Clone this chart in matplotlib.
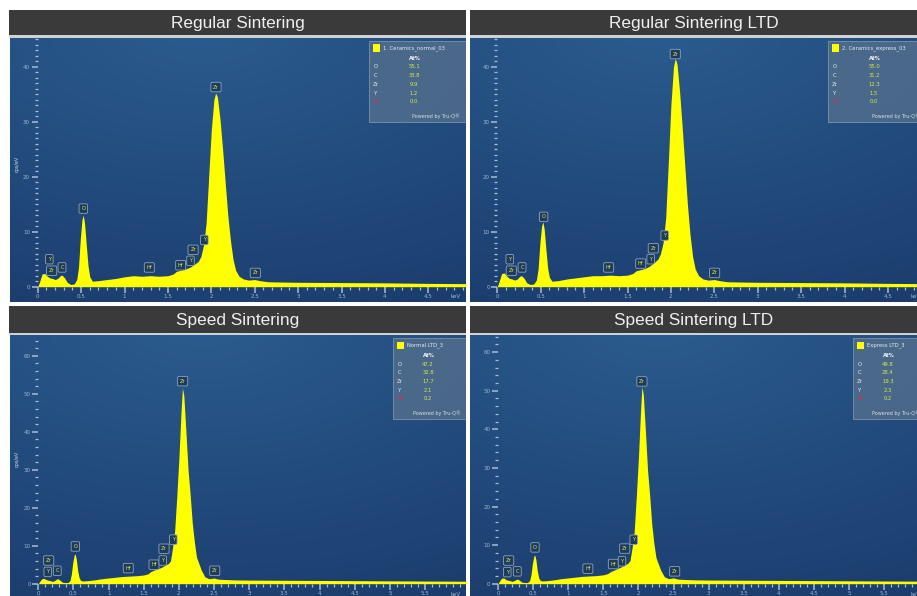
import numpy as np
import matplotlib
matplotlib.use('Agg')
import matplotlib.pyplot as plt
from matplotlib.patches import Rectangle
from matplotlib.ticker import FixedLocator, FuncFormatter

W, H = 917, 596

# EDS spectra, cps/eV against keV
energy_kev = [0.00, 0.02, 0.05, 0.08, 0.11, 0.14, 0.17, 0.20, 0.23, 0.26,
              0.28, 0.31, 0.34, 0.38, 0.42, 0.45, 0.47, 0.49, 0.51, 0.525,
              0.54, 0.56, 0.58, 0.60, 0.63, 0.70, 0.80, 0.90, 1.00, 1.10,
              1.20, 1.30, 1.40, 1.50, 1.56, 1.60, 1.65, 1.70, 1.75, 1.80,
              1.85, 1.88, 1.91, 1.94, 1.97, 2.00, 2.03, 2.05, 2.07, 2.10,
              2.13, 2.16, 2.19, 2.22, 2.25, 2.28, 2.32, 2.37, 2.43, 2.50,
              2.56, 2.65, 2.80, 3.00, 3.50, 4.00, 4.50, 5.00, 5.50, 6.10]

counts_regular = [0.0, 0.8, 2.3, 2.4, 1.9, 1.6, 1.5, 1.3, 1.5, 2.0,
                  2.1, 1.6, 0.8, 0.4, 0.5, 1.3, 3.5, 8.5, 12.2, 13.0,
                  11.5, 7.5, 3.8, 1.8, 1.0, 1.1, 1.3, 1.5, 1.8, 2.0,
                  1.9, 2.0, 1.9, 2.0, 2.3, 2.8, 3.0, 3.2, 3.5, 4.0,
                  4.6, 5.5, 7.5, 11.5, 20.0, 28.5, 34.0, 35.2, 34.5, 30.5,
                  25.0, 19.0, 13.0, 8.5, 5.0, 3.0, 1.9, 1.4, 1.2, 1.3,
                  1.1, 0.9, 0.85, 0.8, 0.75, 0.7, 0.6, 0.55, 0.5, 0.45]

counts_regular_ltd = [0.0, 0.9, 2.4, 2.5, 1.9, 1.5, 1.4, 1.2, 1.4, 1.9,
                      2.0, 1.5, 0.7, 0.4, 0.5, 1.2, 3.2, 7.8, 11.0, 11.8,
                      10.5, 6.8, 3.4, 1.7, 1.0, 1.1, 1.4, 1.6, 1.8, 2.0,
                      2.0, 2.1, 2.0, 2.1, 2.4, 2.9, 3.1, 3.3, 3.7, 4.3,
                      5.0, 6.0, 8.0, 12.5, 22.5, 33.0, 40.0, 41.5, 40.5, 35.5,
                      29.0, 22.0, 15.0, 9.5, 5.5, 3.2, 2.0, 1.4, 1.2, 1.3,
                      1.1, 0.9, 0.85, 0.8, 0.75, 0.7, 0.6, 0.55, 0.5, 0.45]

counts_speed = [0.0, 0.6, 1.3, 1.4, 1.1, 0.9, 0.8, 0.6, 0.8, 1.2,
                1.3, 0.9, 0.4, 0.3, 0.3, 0.8, 2.5, 5.5, 7.5, 7.8,
                6.5, 3.5, 1.6, 0.9, 0.7, 0.8, 1.0, 1.3, 1.5, 1.7,
                1.9, 2.0, 2.1, 2.3, 2.6, 3.2, 3.6, 3.9, 4.3, 4.8,
                5.3, 6.0, 9.5, 14.0, 23.0, 33.0, 45.0, 51.5, 49.5, 40.0,
                30.0, 23.5, 16.0, 11.0, 7.0, 5.5, 3.5, 1.8, 1.3, 1.5,
                1.2, 1.1, 1.0, 0.95, 0.9, 0.85, 0.8, 0.75, 0.7, 0.65]

counts_speed_ltd = [0.0, 0.6, 1.4, 1.5, 1.1, 0.9, 0.8, 0.6, 0.8, 1.1,
                    1.2, 0.8, 0.4, 0.3, 0.3, 0.8, 2.3, 5.2, 7.1, 7.4,
                    6.2, 3.3, 1.5, 0.9, 0.7, 0.8, 1.0, 1.3, 1.5, 1.7,
                    1.9, 2.0, 2.1, 2.3, 2.6, 3.1, 3.5, 3.9, 4.3, 4.8,
                    5.3, 6.0, 9.3, 13.5, 22.5, 32.5, 44.5, 51.0, 49.0, 39.5,
                    29.5, 23.0, 15.5, 10.5, 6.8, 5.3, 3.4, 1.8, 1.3, 1.5,
                    1.2, 1.1, 1.0, 0.95, 0.9, 0.85, 0.8, 0.75, 0.7, 0.65]

titles = ['Regular Sintering', 'Regular Sintering LTD',
          'Speed Sintering', 'Speed Sintering LTD']
sample_names = ['1. Ceramics_normal_03', '2. Ceramics_express_03',
                'Normal LTD_3', 'Express LTD_3']

# quantification, At%
elements = ['O', 'C', 'Zr', 'Y', 'Hf']
at_regular = [55.1, 33.8, 9.9, 1.2, 0.0]
at_regular_ltd = [55.0, 31.2, 12.3, 1.5, 0.0]
at_speed = [47.2, 32.8, 17.7, 2.1, 0.2]
at_speed_ltd = [49.8, 28.4, 19.3, 2.3, 0.2]

# peak markers: line name, energy (keV), marker height (cps/eV)
peak_names = ['Y', 'Zr', 'C', 'O', 'Hf', 'Hf', 'Y', 'Zr', 'Y', 'Zr', 'Zr']
peak_kev_regular = [0.134, 0.161, 0.28, 0.525, 1.286, 1.647, 1.76, 1.79, 1.92, 2.054, 2.507]
peak_y_regular = [5.0, 2.9, 3.5, 14.2, 3.5, 3.9, 4.7, 6.7, 8.5, 36.3, 2.5]
peak_kev_regular_ltd = [0.143, 0.161, 0.285, 0.534, 1.283, 1.652, 1.767, 1.797, 1.928, 2.05, 2.504]
peak_y_regular_ltd = [5.0, 2.9, 3.5, 12.7, 3.5, 4.2, 5.0, 7.0, 9.3, 42.3, 2.5]
peak_kev_speed = [0.134, 0.148, 0.27, 0.527, 1.28, 1.646, 1.77, 1.788, 1.92, 2.054, 2.51]
peak_y_speed = [3.1, 6.1, 3.4, 9.8, 4.1, 5.0, 6.1, 9.2, 11.6, 53.3, 3.4]
peak_kev_speed_ltd = [0.132, 0.152, 0.275, 0.527, 1.28, 1.643, 1.766, 1.805, 1.933, 2.05, 2.517]
peak_y_speed_ltd = [3.0, 6.0, 3.2, 9.4, 3.9, 5.1, 5.8, 9.1, 11.4, 52.4, 3.2]

spectra = [counts_regular, counts_regular_ltd, counts_speed, counts_speed_ltd]
quant = [at_regular, at_regular_ltd, at_speed, at_speed_ltd]
peak_kev = [peak_kev_regular, peak_kev_regular_ltd, peak_kev_speed, peak_kev_speed_ltd]
peak_y = [peak_y_regular, peak_y_regular_ltd, peak_y_speed, peak_y_speed_ltd]

# panel layout in pixels
plot_box = [(10, 38, 466, 302), (470, 38, 917, 302),
            (10, 335, 466, 596), (470, 335, 917, 596)]
title_box = [(9, 10, 466, 35), (470, 10, 917, 35),
             (9, 306, 466, 333), (470, 306, 917, 333)]
zero_px = [(37.7, 286.7), (497.3, 286.7), (38.3, 583.7), (498.0, 583.7)]
scale_px = [(86.8, 5.5), (86.8, 5.5), (70.3, 3.8), (70.2, 3.86)]
y_top_tick = [40, 40, 60, 60]
y_minor_step = [1, 1, 2, 2]
x_last_major = [4.5, 4.5, 5.5, 5.5]
legend_left = [369, 828, 393, 853]
value_dx = [45, 46, 35, 35]
powered_dx = [43, 44, 20, 19]

YELLOW = '#ffff00'
TICK = '#a9bdd5'


def fig_rect(box):
    x1, y1, x2, y2 = box
    return [x1 / W, 1 - y2 / H, (x2 - x1) / W, (y2 - y1) / H]


def backdrop(ax):
    u = np.linspace(0, 1, 240)
    v = np.linspace(0, 1, 240)
    uu, vv = np.meshgrid(u, v)
    d = np.clip(np.hypot((uu - 0.42) * 0.9, vv - 1.05) / 1.25, 0, 1)
    c0 = np.array([0.17, 0.36, 0.56])
    c1 = np.array([0.10, 0.23, 0.42])
    img = c0 + (c1 - c0) * d[..., None]
    ax.imshow(img, extent=(0, 1, 0, 1), origin='lower', transform=ax.transAxes,
              aspect='auto', zorder=0, interpolation='bilinear')


fig = plt.figure(figsize=(W / 100, H / 100), dpi=100)
fig.patch.set_facecolor('white')

for i in range(4):
    # title bar
    tx1, ty1, tx2, ty2 = title_box[i]
    fig.patches.append(Rectangle((tx1 / W, 1 - ty2 / H), (tx2 - tx1) / W, (ty2 - ty1) / H,
                                 transform=fig.transFigure, fc='#3a3a3a', ec='none'))
    fig.patches.append(Rectangle((tx1 / W, 1 - (ty2 + 2.5) / H), (tx2 - tx1) / W, 2.5 / H,
                                 transform=fig.transFigure, fc='#cfd2d4', ec='none'))
    fig.text((tx1 + tx2) / 2 / W, 1 - ((ty1 + ty2) / 2 + 1) / H, titles[i],
             ha='center', va='center', fontsize=12.4, color='#efefef',
             family='Liberation Sans')

    left, top, right, bottom = plot_box[i]
    x0, y0 = zero_px[i]
    sx, sy = scale_px[i]
    ax = fig.add_axes(fig_rect(plot_box[i]))
    backdrop(ax)

    ax.fill_between(energy_kev, 0, spectra[i], color=YELLOW, lw=0, zorder=2)

    ax.set_xlim((left - x0) / sx, (right - x0) / sx)
    ax.set_ylim((y0 - bottom) / sy, (y0 - top) / sy)

    for sp in ax.spines.values():
        sp.set_color('none')
    ax.spines['left'].set_position(('data', 0))
    ax.spines['bottom'].set_position(('data', 0))

    xmaj = np.arange(0, x_last_major[i] + 0.01, 0.5)
    xmin = np.arange(0, ax.get_xlim()[1], 0.1)
    ymaj = np.arange(0, y_top_tick[i] + 1, 10)
    ymin = np.arange(0, ax.get_ylim()[1], y_minor_step[i])
    ax.xaxis.set_major_locator(FixedLocator(xmaj))
    ax.xaxis.set_minor_locator(FixedLocator(xmin))
    ax.yaxis.set_major_locator(FixedLocator(ymaj))
    ax.yaxis.set_minor_locator(FixedLocator(ymin))
    ax.xaxis.set_major_formatter(FuncFormatter(lambda v, p: '%g' % v))
    ax.yaxis.set_major_formatter(FuncFormatter(lambda v, p: '%g' % v))
    ax.tick_params(which='major', direction='out', length=4, width=1.1,
                   color=TICK, labelcolor='#9fb5ce', labelsize=4, pad=1.5)
    ax.tick_params(which='minor', direction='out', length=2, width=0.9, color=TICK)

    # unit label sits at the right end of the energy axis
    ax.text((left + 446 - x0) / sx, -10.3 / sy, 'keV', ha='center', va='center',
            fontsize=4, color='#9fb5ce', clip_on=True)
    ax.text((17 - left) / (right - left), 0.525, 'cps/eV', rotation=90,
            transform=ax.transAxes, ha='center', va='center', fontsize=3.5,
            color='#8ea6c2')

    # peak markers
    for name, kx, ky in zip(peak_names, peak_kev[i], peak_y[i]):
        ax.text(kx, ky, name, ha='center', va='center', fontsize=3.6,
                color='#e4ee3c', zorder=4,
                bbox=dict(boxstyle='round,pad=0.45,rounding_size=0.25',
                          fc='#1d3b5e', ec='#8ea4bc', lw=0.6))

    # quantification box
    aw, ah = right - left, bottom - top
    bl, bt = legend_left[i], top + 3

    def fx(dx):
        return (bl + dx - left) / aw

    def fy(dy):
        return 1 - (bt + dy - top) / ah

    ax.add_patch(Rectangle((fx(0), fy(81)), 0.4, 81 / ah, transform=ax.transAxes,
                           fc='#4d6b8b', ec='#7f97b0', lw=0.6, alpha=0.92, zorder=5))
    ax.add_patch(Rectangle((fx(4), fy(11)), 7 / aw, 7.5 / ah, transform=ax.transAxes,
                           fc=YELLOW, ec='none', zorder=6))
    ax.text(fx(14), fy(7), sample_names[i], transform=ax.transAxes, ha='left',
            va='center', fontsize=3.8, color='#e6ecf2', zorder=6, clip_on=True)
    ax.text(fx(value_dx[i] + 1), fy(17.5), 'At%', transform=ax.transAxes,
            ha='center', va='center', fontsize=3.8, color='#f2f4f6',
            fontweight='bold', zorder=6, clip_on=True)
    for r, (el, val) in enumerate(zip(elements, quant[i])):
        dy = 26 + 8.7 * r
        col = '#e0304a' if el == 'Hf' else '#e6ecf2'
        ax.text(fx(7), fy(dy), el, transform=ax.transAxes, ha='center',
                va='center', fontsize=3.8, color=col, zorder=6, clip_on=True)
        ax.text(fx(value_dx[i]), fy(dy), '%.1f' % val, transform=ax.transAxes,
                ha='center', va='center', fontsize=3.8, color='#d8e84a',
                zorder=6, clip_on=True)
    ax.text(fx(powered_dx[i]), fy(75), 'Powered by Tru-Q\u00ae', transform=ax.transAxes,
            ha='left', va='center', fontsize=3.5, color='#d5dde6', zorder=6,
            clip_on=True)

fig.savefig('out.png', dpi=100, facecolor='white')
